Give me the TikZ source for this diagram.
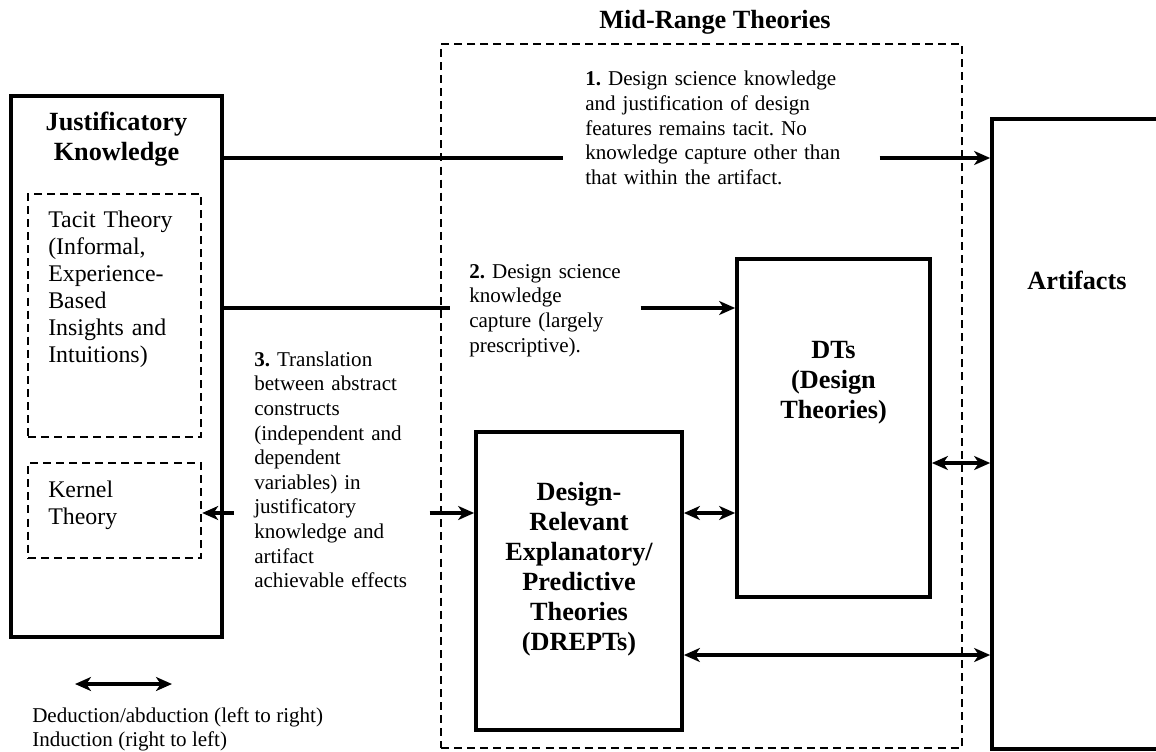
\documentclass[tikz,border=0pt]{standalone}
\usepackage{fontspec}
\setmainfont{Liberation Serif}
\usetikzlibrary{arrows.meta,fit}
\frenchspacing
\hyphenpenalty=10000
\exhyphenpenalty=10000
\hbadness=10000
\hfuzz=20pt
\tikzset{
 box/.style={draw, line width=2.8pt, inner sep=0pt},
 dbox/.style={draw, line width=1.8pt, dash pattern=on 6pt off 3.8pt, inner sep=0pt},
 conn/.style={line width=2.3pt},
 tip/.tip={Stealth[length=12pt,width=10.5pt,inset=3.5pt]},
 arr/.style={conn, -tip},
 darr/.style={conn, tip-tip},
 blabel/.style={font=\fontsize{19.7}{22.5}\selectfont\bfseries, align=center, inner sep=0pt},
 btext/.style={font=\fontsize{17.9}{20.25}\selectfont, align=left, inner sep=0pt, anchor=north west},
 note/.style={font=\fontsize{15.8}{18.45}\selectfont, align=left, inner ysep=0pt, anchor=north west},
}
\begin{document}
\begin{tikzpicture}[x=0.75pt,y=-0.75pt]
\useasboundingbox (0,0) rectangle (1156,751);

% containers
\node[dbox, fit={(441,44) (962,748)}] (mr) {};
\node[blabel] (title) at (715,22) {Mid-Range Theories};

\node[box, fit={(11,96) (222,637)}] (jk) {};
\node[blabel] (jklab) at (116.5,139) {Justificatory\\Knowledge};
\node[dbox, fit={(28,194) (201,437)}] (tt) {};
\node[btext, text width=105pt] (ttlab) at (48,211) {Tacit Theory\\(Informal,\\Experience-\\Based\\Insights and\\Intuitions)};
\node[dbox, fit={(28,463) (201,558)}] (kt) {};
\node[btext, text width=105pt] (ktlab) at (48,481) {Kernel\\Theory};

\node[box, fit={(737,259) (930,597)}] (dt) {};
\node[blabel] (dtlab) at (833.5,383) {DTs\\(Design\\Theories)};
\node[box, fit={(476,432) (682,730)}] (dr) {};
\node[blabel] (drlab) at (579,569) {Design-\\Relevant\\Explanatory/\\Predictive\\Theories\\(DREPTs)};

\node[box, fit={(992,119) (1200,749)}] (art) {};
\node[blabel] (artlab) at (1077,280) {Artifacts};

% annotation texts
\node[note, inner xsep=16.5pt, text width=204pt] (t1) at (563,71)
 {\textbf{1.} Design science knowledge\\and justification of design\\features remains tacit. No\\knowledge capture other than\\that within the artifact.};
\node[note, inner xsep=14.25pt, text width=114pt] (t2) at (450,264)
 {\textbf{2.} Design science\\knowledge\\capture (largely\\prescriptive).};
\node[note, inner xsep=15pt, text width=116.25pt] (t3) at (234,351.5)
 {\textbf{3.} Translation\\between abstract\\constructs\\(independent and\\dependent\\variables) in\\justificatory\\knowledge and\\artifact\\achievable effects};

% connectors
\coordinate (y1) at (0,158);
\draw[conn] (jk.east |- y1) -- (t1.west |- y1);
\draw[arr] (t1.east |- y1) -- (art.west |- y1);
\coordinate (y2) at (0,308);
\draw[conn] (jk.east |- y2) -- (t2.west |- y2);
\draw[arr] (t2.east |- y2) -- (dt.west |- y2);
\coordinate (y3) at (0,513);
\draw[arr] (t3.west |- y3) -- (kt.east |- y3);
\draw[arr] (t3.east |- y3) -- (dr.west |- y3);
\draw[darr] (dr.east |- y3) -- (dt.west |- y3);
\coordinate (y4) at (0,463);
\draw[darr] (dt.east |- y4) -- (art.west |- y4);
\coordinate (y5) at (0,655);
\draw[darr] (dr.east |- y5) -- (art.west |- y5);

% legend
\coordinate (la) at (75,684);
\coordinate (lb) at (172,684);
\draw[darr] (la) -- (lb);
\node[note, inner xsep=0pt] (leg) at (32,707)
 {Deduction/abduction (left to right)\\Induction (right to left)};
\end{tikzpicture}
\end{document}
